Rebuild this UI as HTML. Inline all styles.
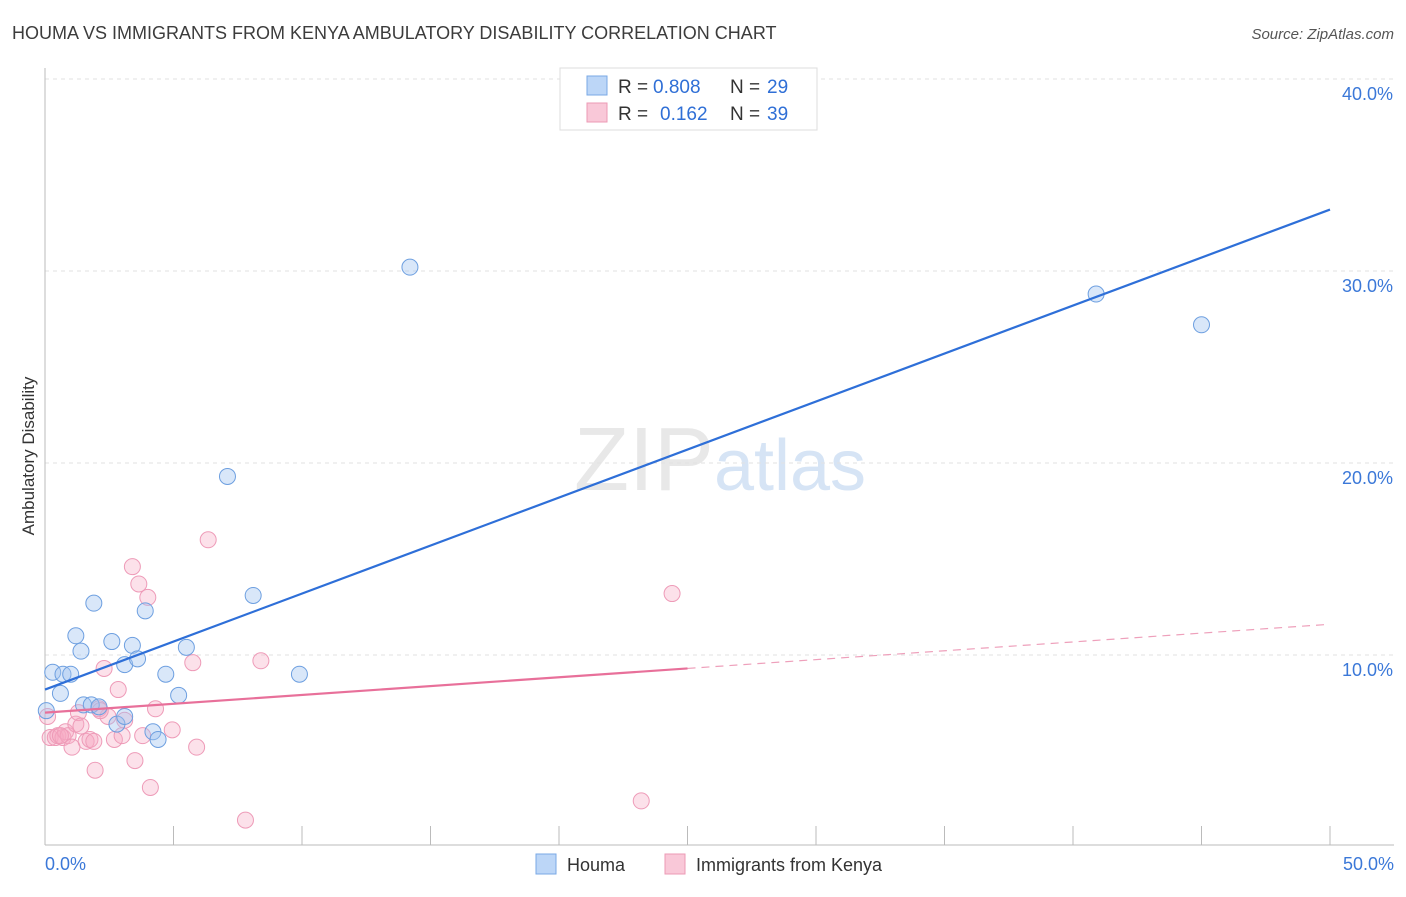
<!DOCTYPE html>
<html><head><meta charset="utf-8"><style>
body{margin:0;background:#fff;font-family:"Liberation Sans",sans-serif;}
svg text{font-family:"Liberation Sans",sans-serif;}
</style></head><body>
<svg id="chart" width="1406" height="892" xmlns="http://www.w3.org/2000/svg">
<text x="12" y="39" font-size="18" fill="#3c3c3c">HOUMA VS IMMIGRANTS FROM KENYA AMBULATORY DISABILITY CORRELATION CHART</text>
<text x="1394" y="39" font-size="15" fill="#555" text-anchor="end" font-style="italic">Source: ZipAtlas.com</text>
<text x="720" y="490" font-size="90" fill="#e8e8e8" text-anchor="middle" font-family="Liberation Serif">ZIP<tspan fill="#d6e4f5" font-family="Liberation Sans" font-size="72">atlas</tspan></text>
<g id="grid"></g><g id="axes"></g><g id="marks"></g>
<text transform="translate(34,456) rotate(-90)" font-size="17" fill="#333" text-anchor="middle">Ambulatory Disability</text>
<g>
<rect x="560" y="68" width="257" height="62" fill="#fff" stroke="#ddd"/>
<rect x="587" y="76" width="20" height="19" fill="#bcd6f7" stroke="#7aa8e6"/>
<text x="618" y="93" font-size="19" fill="#333">R =</text>
<text x="653" y="93" font-size="19" fill="#2f6fd6">0.808</text>
<text x="730" y="93" font-size="19" fill="#333">N =</text>
<text x="767" y="93" font-size="19" fill="#2f6fd6">29</text>
<rect x="587" y="103" width="20" height="19" fill="#f9c8d8" stroke="#ec9ab5"/>
<text x="618" y="120" font-size="19" fill="#333">R =</text>
<text x="660" y="120" font-size="19" fill="#2f6fd6">0.162</text>
<text x="730" y="120" font-size="19" fill="#333">N =</text>
<text x="767" y="120" font-size="19" fill="#2f6fd6">39</text>
</g>
<g>
<rect x="536" y="854" width="20" height="20" fill="#bcd6f7" stroke="#7aa8e6"/>
<text x="567" y="871" font-size="18" fill="#333">Houma</text>
<rect x="665" y="854" width="20" height="20" fill="#f9c8d8" stroke="#ec9ab5"/>
<text x="696" y="871" font-size="18" fill="#333">Immigrants from Kenya</text>
</g>
</svg>
<script>
const NS="http://www.w3.org/2000/svg";
const yTicks=[10,20,30,40];
const houmaXs=[0.3,0.6,0.7,1.0,1.2,1.4,1.5,1.8,1.9,2.1,2.6,2.8,3.1,3.1,3.4,3.6,3.9,4.2,4.4,4.7,5.2,5.5,7.1,8.1,9.9,14.2,40.9,45.0,0.05];
const houmaYs=[9.1,8.0,9.0,9.0,11.0,10.2,7.4,7.4,12.7,7.3,10.7,6.4,9.5,6.8,10.5,9.8,12.3,6.0,5.6,9.0,7.9,10.4,19.3,13.1,9.0,30.2,28.8,27.2,7.1];
const kenyaXs=[0.1,0.2,0.4,0.5,0.7,0.8,0.9,1.05,1.2,1.3,1.4,1.6,1.75,1.9,1.95,2.1,2.3,2.45,2.7,2.85,3.0,3.1,3.4,3.5,3.65,3.8,4.0,4.1,4.3,4.95,5.75,5.9,6.35,7.8,8.4,23.2,24.4,2.15,0.6];
const kenyaYs=[6.8,5.7,5.7,5.8,5.7,6.0,5.8,5.2,6.4,7.0,6.3,5.5,5.6,5.5,4.0,7.2,9.3,6.8,5.6,8.2,5.8,6.6,14.6,4.5,13.7,5.8,13.0,3.1,7.2,6.1,9.6,5.2,16.0,1.4,9.7,2.4,13.2,7.1,5.8];
const houmaTrend=[8.2,33.2];
const kenyaTrend=[7.0,11.6];
const kenyaSolidEnd=25;
function sx(v){return 45+v/50*1285;}
function sy(v){return 847-v*19.2;}
const svg=document.getElementById('chart');
function mk(tag,attrs,parent){const e=document.createElementNS(NS,tag);for(const k in attrs)e.setAttribute(k,attrs[k]);(parent||svg).appendChild(e);return e;}
const grid=document.getElementById('grid'),axes=document.getElementById('axes'),marks=document.getElementById('marks');
const topLine=mk('line',{x1:45,x2:1394,y1:79,y2:79,stroke:'#e2e2e2','stroke-dasharray':'4,4'},grid);


for(const t of yTicks){
 const l=mk('line',{x1:45,x2:1394,y1:sy(t),y2:sy(t),stroke:'#e2e2e2','stroke-dasharray':'4,4'},grid);
 
 
 const tx=mk('text',{x:1393,y:sy(t)+21,'font-size':18,fill:'#3b78d8','text-anchor':'end'},axes);
 tx.textContent=t.toFixed(1)+'%';
 
 
}
const ax=mk('line',{x1:45,x2:1394,y1:845,y2:845,stroke:'#bbb'},axes);


const ay=mk('line',{x1:45,x2:45,y1:68,y2:845,stroke:'#bbb'},axes);


for(let i=0;i<=10;i++){const t=mk('line',{x1:sx(i*5),x2:sx(i*5),y1:826,y2:845,stroke:'#bbb'},axes);
 
 }
const xl=[["0.0%",0,'start'],["50.0%",50,'end']];
for(const [s,v,a] of xl){const t=mk('text',{x:v==0?45:1394,y:870,'font-size':18,fill:'#3b78d8','text-anchor':a},axes);t.textContent=s;
 
 }
for(let i=0;i<kenyaXs.length;i++){const c=mk('circle',{cx:sx(kenyaXs[i]),cy:sy(kenyaYs[i]),r:8,fill:'rgba(246,170,196,0.35)',stroke:'#ee9bb8','stroke-width':1},marks);
 
 }
for(let i=0;i<houmaXs.length;i++){const c=mk('circle',{cx:sx(houmaXs[i]),cy:sy(houmaYs[i]),r:8,fill:'rgba(160,196,240,0.4)',stroke:'#6d9fe0','stroke-width':1},marks);
 
 }
const hl=mk('line',{x1:sx(0),y1:sy(houmaTrend[0]),x2:sx(50),y2:sy(houmaTrend[1]),stroke:'#2e6fd8','stroke-width':2.2},marks);


const midY=kenyaTrend[0]+(kenyaTrend[1]-kenyaTrend[0])*kenyaSolidEnd/50;
const kl=mk('line',{x1:sx(0),y1:sy(kenyaTrend[0]),x2:sx(kenyaSolidEnd),y2:sy(midY),stroke:'#e8709a','stroke-width':2.2},marks);


const kd=mk('line',{x1:sx(kenyaSolidEnd),y1:sy(midY),x2:sx(50),y2:sy(kenyaTrend[1]),stroke:'#eea0bb','stroke-width':1.2,'stroke-dasharray':'8,6'},marks);


</script>
</body></html>
